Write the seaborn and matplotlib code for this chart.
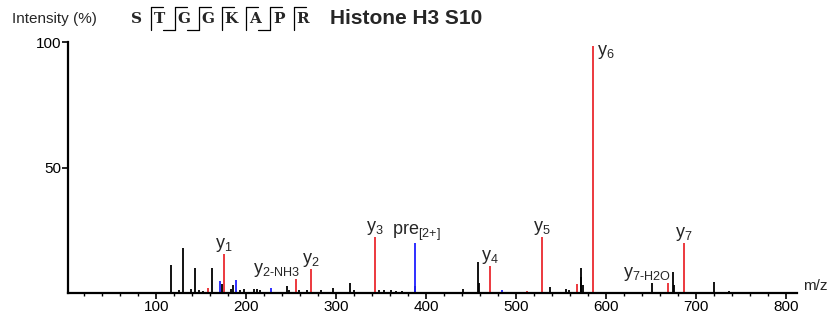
import pandas as pd
import matplotlib
matplotlib.use("Agg")
import matplotlib.pyplot as plt
import seaborn as sns
from matplotlib.lines import Line2D
from matplotlib.ticker import MultipleLocator

# labelled fragment ions (red)
ion_labels = ['y1', 'y2-NH3', 'y2', 'y3', 'y4', 'y5', 'y6', 'y7-H2O', 'y7']
ion_mz = [175.1, 255.1, 272.2, 343.2, 471.3, 528.3, 585.3, 668.4, 686.4]
ion_int = [15.7, 5.5, 9.4, 22.4, 10.6, 22.4, 98.5, 3.9, 20.0]

# unlabelled red peaks
red_mz = [157.0, 511.7, 568.0]
red_int = [2.0, 0.6, 3.5]

# blue peaks (precursor and others)
blue_mz = [170.6, 188.3, 228.0, 387.2, 484.0, 501.7]
blue_int = [4.7, 5.0, 2.0, 20.0, 1.0, 0.4]

# black (unassigned) peaks
black_mz = [116.0, 125.0, 129.4, 139.0, 143.0, 147.0, 152.0, 162.0, 172.8, 183.0,
            185.0, 193.0, 198.0, 209.0, 212.0, 215.0, 245.0, 248.0, 259.0, 267.0,
            283.0, 296.0, 315.0, 320.0, 348.0, 353.0, 361.0, 366.0, 373.0, 387.6,
            440.6, 457.0, 458.5, 538.0, 555.0, 559.0, 571.5, 572.5, 574.0, 650.5,
            674.0, 675.0, 719.5, 736.0, 756.0]
black_int = [11.0, 1.0, 18.0, 1.5, 9.8, 1.0, 0.8, 9.8, 3.5, 1.5,
             3.0, 1.0, 1.5, 1.5, 1.5, 1.0, 2.8, 1.0, 1.0, 1.0,
             1.0, 2.0, 4.0, 1.0, 1.0, 1.0, 1.0, 0.8, 0.8, 2.8,
             1.5, 12.2, 4.0, 2.4, 1.5, 1.0, 6.5, 9.8, 3.0, 4.0,
             8.2, 3.0, 4.3, 0.8, 0.5]

sequence = list('STGGKAPR')
b_sites = [2, 3, 6]  # cleavage sites that also carry the bottom hook

peaks = pd.concat([
    pd.DataFrame({'mz': black_mz, 'intensity': black_int, 'kind': 'other'}),
    pd.DataFrame({'mz': blue_mz, 'intensity': blue_int, 'kind': 'pre'}),
    pd.DataFrame({'mz': red_mz, 'intensity': red_int, 'kind': 'y'}),
    pd.DataFrame({'mz': ion_mz, 'intensity': ion_int, 'kind': 'y'}),
], ignore_index=True)
colors = {'other': 'black', 'pre': '#1f1fff', 'y': '#ea2a2f'}

sns.set_style('ticks')
plt.rcParams['font.family'] = ['Liberation Sans', 'DejaVu Sans']
plt.rcParams['mathtext.fontset'] = 'custom'
plt.rcParams['mathtext.rm'] = 'Liberation Sans'
plt.rcParams['mathtext.it'] = 'Liberation Sans:italic'

W, H = 835, 323
fig = plt.figure(figsize=(W / 100, H / 100), dpi=100)
ax = fig.add_axes([68 / W, 30 / H, (797 - 68) / W, (293 - 42) / H])

for kind, grp in peaks.groupby('kind'):
    ax.vlines(grp['mz'], 0, grp['intensity'], color=colors[kind], lw=1.3)

ax.set_xlim(2, 812)
ax.set_ylim(0, 100)
ax.set_yticks([50, 100])
ax.xaxis.set_major_locator(MultipleLocator(100))
ax.xaxis.set_minor_locator(MultipleLocator(20))
ax.set_xticks(range(100, 801, 100))
sns.despine(ax=ax)
for side in ['left', 'bottom']:
    ax.spines[side].set_linewidth(1.6)
    ax.spines[side].set_color('black')
ax.tick_params(axis='both', which='major', length=4, width=1.2, color='black',
               labelsize=11, pad=1, labelcolor='black')
ax.tick_params(axis='x', which='minor', length=2.5, width=1, color='black')
ax.tick_params(axis='y', which='minor', length=0)

# peak labels
def lab(name):
    base, _, rest = name.partition('-')
    if rest:
        return r'y$_{\mathregular{%s}\text{-}\mathregular{%s}}$' % (base[1:], rest)
    return r'y$_{\mathregular{%s}}$' % base[1:]

offsets = {'y6': (3, -1, 'left', 'top'), 'y2-NH3': (3, 0, 'right', 'bottom'),
           'y7-H2O': (2, 0, 'right', 'bottom')}
for name, mz, h in zip(ion_labels, ion_mz, ion_int):
    dx, dy, ha, va = offsets.get(name, (0, 0, 'center', 'bottom'))
    if name == 'y6':
        h = 100
    ax.annotate(lab(name), xy=(mz, h), xytext=(dx, dy), textcoords='offset points',
                ha=ha, va=va, fontsize=13)
ax.annotate(r'pre$_{\mathregular{[2{+}]}}$', xy=(blue_mz[3], blue_int[3]), xytext=(1, 0),
            textcoords='offset points', ha='center', va='bottom', fontsize=13)

ax.text(1.008, 0.0, 'm/z', transform=ax.transAxes, fontsize=11, ha='left', va='bottom')

# header
fig.text(12 / W, 1 - 19 / H, 'Intensity (%)', fontsize=11, ha='left', va='center')
fig.text(330 / W, 1 - 18 / H, 'Histone H3 S10', fontsize=15, fontweight='bold',
         ha='left', va='center')

x0, step = 136, 23.8
for i, aa in enumerate(sequence):
    fig.text((x0 + i * step) / W, 1 - 19 / H, aa, family='DejaVu Serif',
             fontweight='bold', fontsize=11, ha='center', va='center')
for site in range(1, len(sequence)):
    xs = x0 + (site - 0.5) * step + 3
    top, bot = 1 - 7 / H, 1 - 30 / H
    fig.add_artist(Line2D([xs / W, xs / W], [bot, top], color='black', lw=0.9))
    fig.add_artist(Line2D([xs / W, (xs + 12) / W], [top, top], color='black', lw=0.9))
    if site in b_sites:
        fig.add_artist(Line2D([(xs - 12) / W, xs / W], [bot, bot], color='black', lw=0.9))

fig.savefig('out.png', dpi=100)
